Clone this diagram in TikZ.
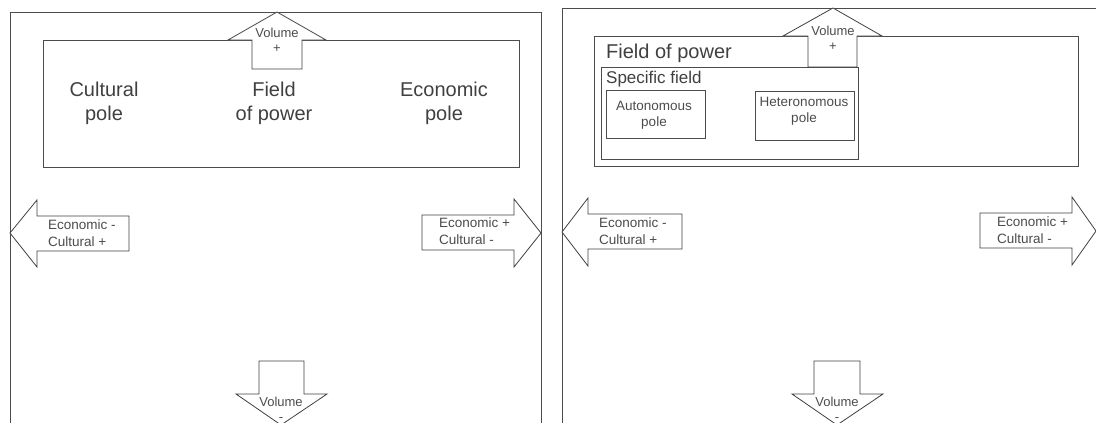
\documentclass[tikz,border=0pt]{standalone}
\usepackage{fontspec}
\setmainfont{Liberation Sans}

\tikzset{
  frame/.style={draw=black!70, line width=0.8pt},
  blockarrow/.style={draw=black!75, line width=0.8pt, fill=white, line join=miter},
  bigtext/.style={font=\fontsize{20}{24}\selectfont, text=black!75, align=center, inner sep=0pt},
  midtext/.style={font=\fontsize{17}{20}\selectfont, text=black!75, inner sep=0pt},
  smalltext/.style={font=\fontsize{13.5}{16.5}\selectfont, text=black!70, align=center, inner sep=0pt},
  voltext/.style={font=\fontsize{13}{15}\selectfont, text=black!70, align=center, inner sep=0pt}
}

\begin{document}
\begin{tikzpicture}[x=1pt, y=-1pt]
\useasboundingbox (0,0) rectangle (1096,423);
\clip (0,0) rectangle (1096,423);

% left panel
\draw[frame] (10,440) -- (10,12) -- (541,12) -- (541,440);
\draw[frame] (43,40) rectangle (519,167);
\draw[blockarrow] (277,12) -- (326,40) -- (302,40) -- (302,69) -- (252,69) -- (252,40) -- (228,40) -- cycle;
\draw[blockarrow] (10,233) -- (37,200) -- (37,216) -- (129,216) -- (129,251) -- (37,251) -- (37,267) -- cycle;
\draw[blockarrow] (541,233) -- (514,199) -- (514,215) -- (422,215) -- (422,250) -- (514,250) -- (514,267) -- cycle;
\draw[blockarrow] (281,425) -- (327,394) -- (304,394) -- (304,361) -- (259,361) -- (259,394) -- (236,394) -- cycle;
\node[voltext] (volupL) at (277,40.5) {Volume\\+};
\node[voltext] (voldownL) at (281,409.5) {Volume\\-};
\node[bigtext] (culturalL) at (104,103) {Cultural\\pole};
\node[bigtext] (fieldL) at (274,103) {Field\\of power};
\node[bigtext] (economicL) at (444,103) {Economic\\pole};
\node[smalltext, align=left, anchor=west] (westL) at (48,233) {Economic -\\Cultural +};
\node[smalltext, align=left, anchor=west] (eastL) at (439,231) {Economic +\\Cultural -};

% right panel
\draw[frame] (562,440) -- (562,8) -- (1100,8);
\draw[frame] (594,36) rectangle (1078,166);
\draw[blockarrow] (833,8) -- (882,36) -- (857,36) -- (857,67) -- (808,67) -- (808,36) -- (783,36) -- cycle;
\draw[frame] (601,67) rectangle (858,159);
\draw[frame] (606,90) rectangle (705,138);
\draw[frame] (755,91) rectangle (854,140);
\draw[blockarrow] (562,232) -- (588,198) -- (588,214) -- (682,214) -- (682,249) -- (588,249) -- (588,266) -- cycle;
\draw[blockarrow] (1096,231) -- (1072,197) -- (1072,213) -- (980,213) -- (980,248) -- (1072,248) -- (1072,265) -- cycle;
\draw[blockarrow] (837,425) -- (883,394) -- (860,394) -- (860,361) -- (814,361) -- (814,394) -- (792,394) -- cycle;
\node[voltext] (volupR) at (833,38) {Volume\\+};
\node[voltext] (voldownR) at (837,409.5) {Volume\\-};
\node[bigtext, anchor=west] (powerR) at (606,53) {Field of power};
\node[midtext, anchor=west] (specificR) at (606,79) {Specific field};
\node[smalltext] (autoR) at (654,115.5) {Autonomous\\pole};
\node[smalltext] (heteroR) at (804,111.5) {Heteronomous\\pole};
\node[smalltext, align=left, anchor=west] (westR) at (599,231) {Economic -\\Cultural +};
\node[smalltext, align=left, anchor=west] (eastR) at (997,230) {Economic +\\Cultural -};
\end{tikzpicture}
\end{document}
